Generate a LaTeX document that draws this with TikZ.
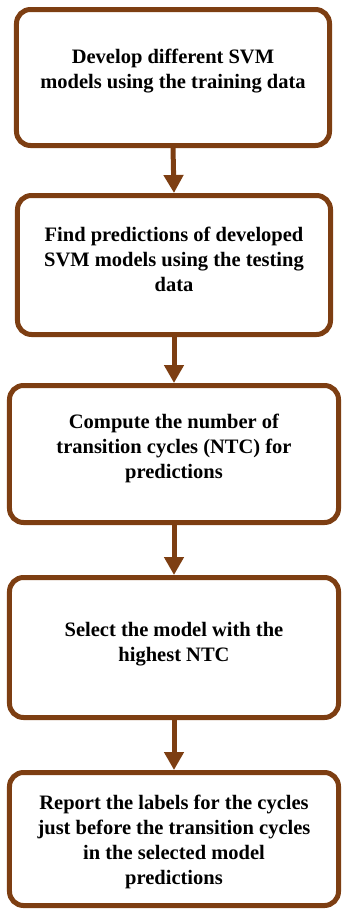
\documentclass[tikz,border=0pt]{standalone}
\usepackage{fontspec}
\setmainfont{Liberation Serif}
\usetikzlibrary{arrows.meta}
\definecolor{boxbrown}{RGB}{125,62,18}
\begin{document}
\begin{tikzpicture}[x=1bp,y=-1bp,
  stepbox/.style={draw=boxbrown,line width=5bp,rounded corners=14bp,inner sep=0pt},
  steptext/.style={align=center,font=\fontsize{20.5bp}{25bp}\selectfont\bfseries,inner sep=0pt},
  flow/.style={draw=boxbrown,line width=5bp,-{Triangle[length=18bp,width=19bp]}}]
\useasboundingbox (0,0) rectangle (344,912);
% boxes: outer extents minus line width
\node[stepbox,minimum width=313bp,minimum height=136bp] (b1) at (173,77.5) {};
\node[stepbox,minimum width=313bp,minimum height=139bp] (b2) at (174,265) {};
\node[stepbox,minimum width=329bp,minimum height=137bp] (b3) at (174,454) {};
\node[stepbox,minimum width=329bp,minimum height=140bp] (b4) at (174,647.5) {};
\node[stepbox,minimum width=329bp,minimum height=133bp] (b5) at (174,839) {};
\node[steptext] (t1) at (173,71.5) {Develop different SVM\\models using the training data};
\node[steptext] (t2) at (174,259) {Find predictions of developed\\SVM models using the testing\\data};
\node[steptext] (t3) at (174,448.5) {Compute the number of\\transition cycles (NTC) for\\predictions};
\node[steptext] (t4) at (174,644) {Select the model with the\\highest NTC};
\node[steptext] (t5) at (174,842) {Report the labels for the cycles\\just before the transition cycles\\in the selected model\\predictions};
\draw[flow] (b1.south) -- (b2.north);
\draw[flow] (b2.south) -- (b3.north);
\draw[flow] (b3.south) -- (b4.north);
\draw[flow] (b4.south) -- (b5.north);
\end{tikzpicture}
\end{document}
